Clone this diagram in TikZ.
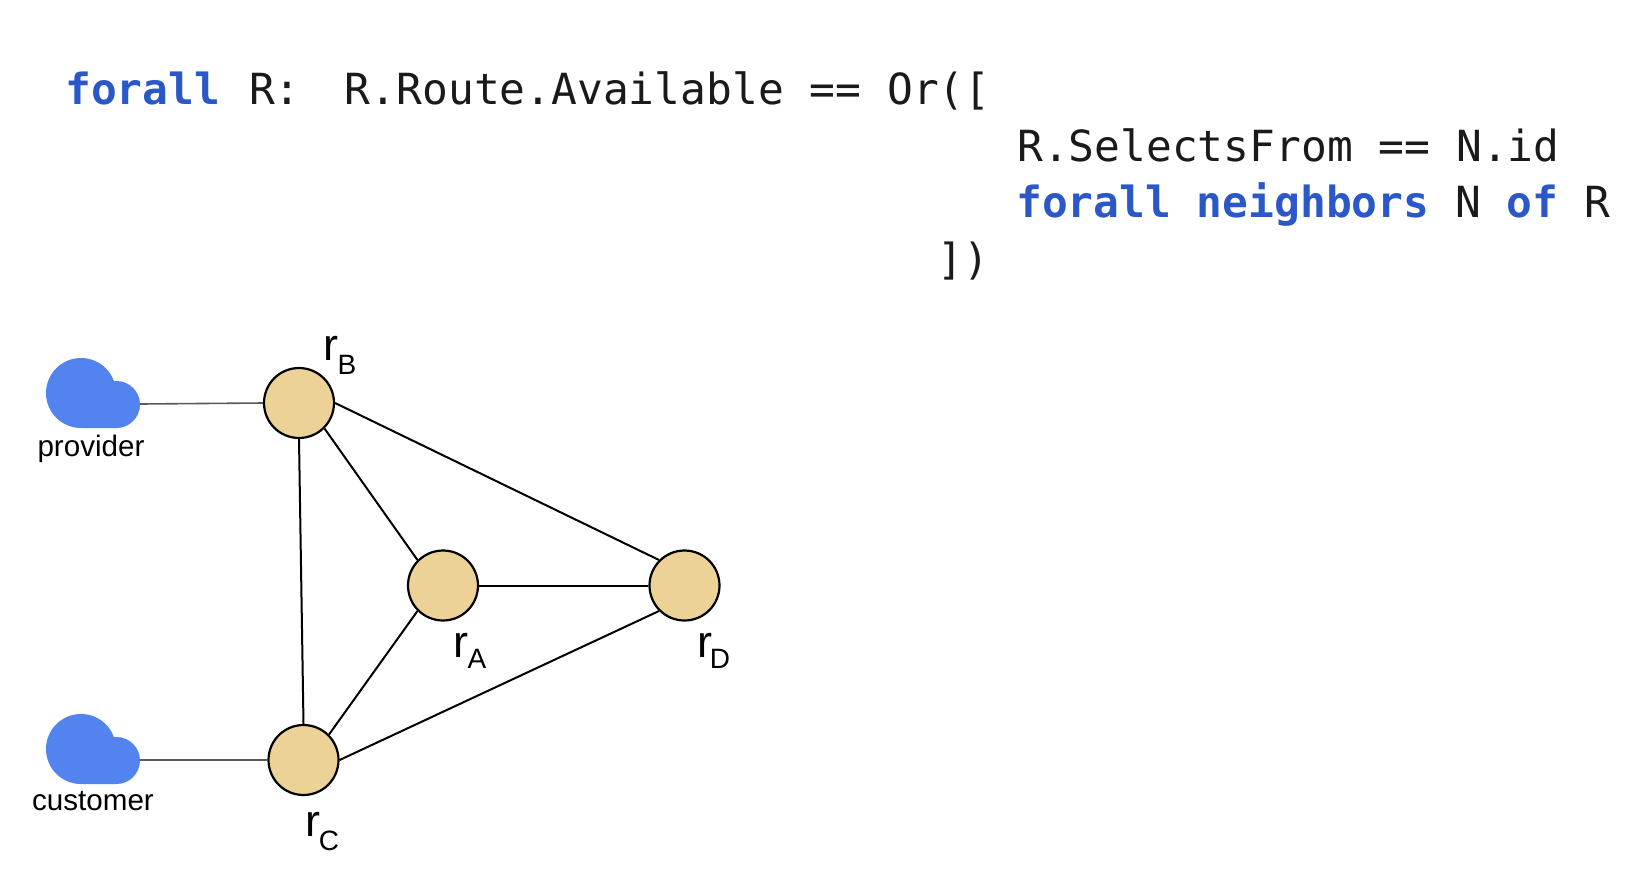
\documentclass[tikz,border=0pt]{standalone}
\usepackage{fontspec}
\setmainfont{Liberation Sans}
\newfontfamily\codefont{DejaVu Sans Mono}
\definecolor{kw}{HTML}{2B58C8}
\definecolor{txt}{HTML}{1A1A1A}
\definecolor{cloudblue}{HTML}{5283EE}
\definecolor{routerfill}{HTML}{ECD297}
\newcommand{\kwd}[1]{\textcolor{kw}{\textbf{#1}}}
\begin{document}
\begin{tikzpicture}[x=1pt,y=-1pt,
  router/.style={circle,draw=black,line width=2.2pt,fill=routerfill,minimum size=70pt,inner sep=0pt},
  link/.style={black,line width=2pt},
  uplink/.style={black!65,line width=1.6pt},
  code/.style={anchor=base west,inner sep=0pt,text=txt,font=\codefont\fontsize{42.9}{50}\selectfont},
  lab/.style={anchor=base,inner sep=0pt,font=\fontsize{45}{50}\selectfont},
  sublab/.style={anchor=base,inner sep=0pt,font=\fontsize{28}{30}\selectfont},
  captext/.style={anchor=base,inner sep=0pt,font=\fontsize{29.6}{32}\selectfont},
  cloudshape/.style={fill=cloudblue,draw=none}]
\useasboundingbox (0,0) rectangle (1646,868);
\node[code] (l1) at (65,104) {\kwd{forall}\hspace{28.9pt}R:\hspace{44.2pt}R.Route.Available == Or([};
\node[code] (l2) at (1017,161) {R.SelectsFrom == N.id};
\node[code] (l3) at (1016,217) {\kwd{forall neighbors} N \kwd{of} R};
\node[code] (l4) at (937.5,274) {])};
% clouds
\foreach \dy in {0,356}{
 \fill[cloudshape] (81,393+\dy) circle[radius=35pt]
   (116.5,404.5+\dy) circle[radius=23.5pt]
   (81,393+\dy) rectangle (116.5,428+\dy);
}
\coordinate (cp) at (140,404);
\coordinate (cc) at (140,760);
\node[router] (rB) at (299,403) {};
\node[router] (rA) at (443,585.5) {};
\node[router] (rD) at (684.5,585.5) {};
\node[router] (rC) at (303.5,760) {};
\draw[uplink] (cp) -- (rB.west);
\draw[uplink] (cc) -- (rC.west);
\draw[link] (rB.south) -- (rC.north);
\draw[link] (rB.south east) -- (rA.north west);
\draw[link] (rB.east) -- (rD.north west);
\draw[link] (rA.east) -- (rD.west);
\draw[link] (rA.south west) -- (rC.north east);
\draw[link] (rC.east) -- (rD.south west);
\node[captext] (tp) at (91,456) {provider};
\node[captext] (tc) at (93,810) {customer};
\node[lab] (a1) at (331,360) {r};
\node[sublab] (a2) at (347,374) {B};
\node[lab] (b1) at (461,657) {r};
\node[sublab] (b2) at (477,668) {A};
\node[lab] (c1) at (705,657) {r};
\node[sublab] (c2) at (720,668) {D};
\node[lab] (d1) at (313,836) {r};
\node[sublab] (d2) at (329,850) {C};
\end{tikzpicture}
\end{document}
